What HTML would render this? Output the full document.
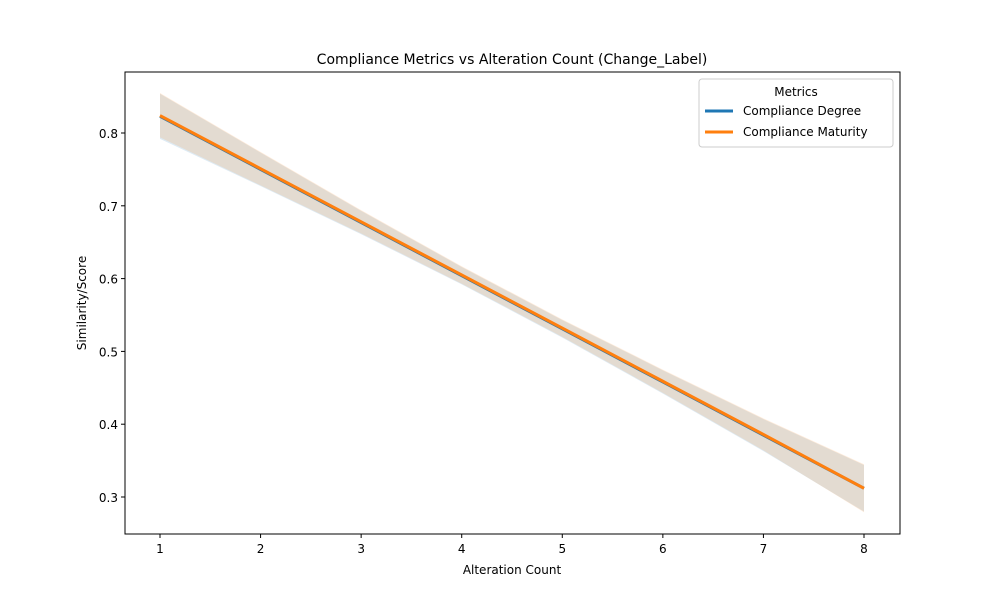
<!DOCTYPE html>
<html><head><meta charset="utf-8"><style>
body{margin:0;background:#fff;font-family:"Liberation Sans","DejaVu Sans",sans-serif}
</style></head><body>
<svg id="c" width="1000" height="600" xmlns="http://www.w3.org/2000/svg" font-family="DejaVu Sans, Liberation Sans, sans-serif">
<rect width="1000" height="600" fill="#fff"/>
</svg>
<script>
const xs=[1,2,3,4,5,6,7,8];
const degree=[0.823,0.750,0.677,0.604,0.531,0.458,0.385,0.312];
const degreeLo=[0.792,0.727,0.661,0.592,0.519,0.442,0.363,0.280];
const degreeHi=[0.854,0.773,0.693,0.616,0.543,0.474,0.407,0.344];
const maturity=[0.824,0.751,0.678,0.605,0.532,0.459,0.386,0.312];
const maturityLo=[0.794,0.728,0.662,0.593,0.520,0.443,0.364,0.279];
const maturityHi=[0.855,0.774,0.694,0.617,0.544,0.475,0.408,0.345];
const xTicks=[1,2,3,4,5,6,7,8];
const yTicks=[0.3,0.4,0.5,0.6,0.7,0.8];
const NS='http://www.w3.org/2000/svg';
const svg=document.getElementById('c');
const L=125,R=900,T=72,B=534;
const X=v=>160+(v-1)*(864-160)/7;
const Y=v=>497-(v-0.3)*(497-133)/0.5;
function mk(t,a,p){const e=document.createElementNS(NS,t);for(const k in a)e.setAttribute(k,a[k]);(p||svg).appendChild(e);return e;}
function band(lo,hi,col,name){
  let d='M'+xs.map((x,i)=>X(x)+','+Y(hi[i])).join('L')+'L'+xs.slice().reverse().map((x,j)=>{const i=xs.length-1-j;return X(x)+','+Y(lo[i]);}).join('L')+'Z';
  const e=mk('path',{d:d,fill:col,'fill-opacity':0.15,stroke:'none'});
  
  
}
function line(v,col,name){
  const e=mk('polyline',{points:xs.map((x,i)=>X(x)+','+Y(v[i])).join(' '),fill:'none',stroke:col,'stroke-width':3});
  
  
}
band(degreeLo,degreeHi,'#1f77b4','degree-ci-band');
line(degree,'#1f77b4','degree-line');
band(maturityLo,maturityHi,'#ff7f0e','maturity-ci-band');
line(maturity,'#ff7f0e','maturity-line');
const fr=mk('rect',{x:L,y:T,width:R-L,height:B-T,fill:'none',stroke:'#000','stroke-width':1});


xTicks.forEach(t=>{
  mk('line',{x1:X(t),x2:X(t),y1:B,y2:B+4,stroke:'#000'});
  const tx=mk('text',{x:X(t),y:B+19,'font-size':12,'text-anchor':'middle'});tx.textContent=t;
  
  
});
yTicks.forEach(t=>{
  mk('line',{x1:L-4,x2:L,y1:Y(t),y2:Y(t),stroke:'#000'});
  const tx=mk('text',{x:L-7,y:Y(t)+5,'font-size':12,'text-anchor':'end'});tx.textContent=t.toFixed(1);
  
  
});
</script>
<svg style="position:absolute;left:0;top:0" width="1000" height="600" xmlns="http://www.w3.org/2000/svg" font-family="DejaVu Sans, Liberation Sans, sans-serif">
<text x="512" y="64" font-size="14" text-anchor="middle">Compliance Metrics vs Alteration Count (Change_Label)</text>
<text x="512" y="574" font-size="12" text-anchor="middle">Alteration Count</text>
<text transform="translate(86,303) rotate(-90)" font-size="12" text-anchor="middle">Similarity/Score</text>
<g>
<rect x="699" y="79" width="194" height="68" rx="3" fill="#fff" fill-opacity="0.8" stroke="#ccc"/>
<text x="796" y="96" font-size="12" text-anchor="middle">Metrics</text>
<line x1="705" x2="733" y1="111" y2="111" stroke="#1f77b4" stroke-width="3"/>
<text x="743" y="115" font-size="12">Compliance Degree</text>
<line x1="705" x2="733" y1="132" y2="132" stroke="#ff7f0e" stroke-width="3"/>
<text x="743" y="136" font-size="12">Compliance Maturity</text>
</g>
</svg>
</body></html>
